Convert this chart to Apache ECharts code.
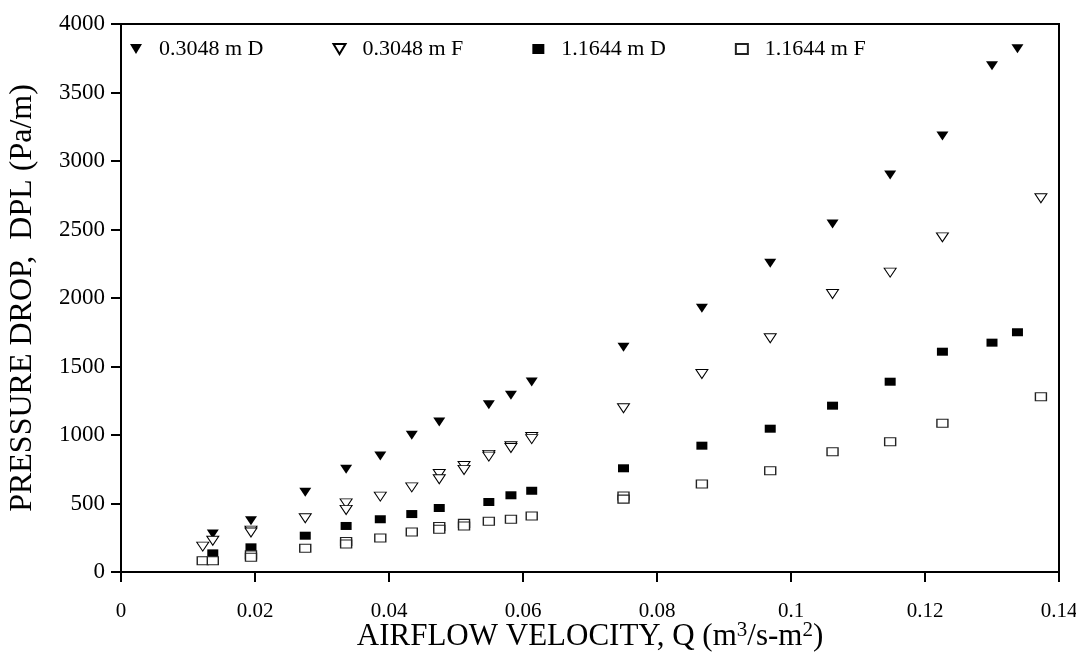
<!DOCTYPE html>
<html>
<head>
<meta charset="utf-8">
<script src="https://cdn.jsdelivr.net/npm/echarts@6/dist/echarts.min.js"></script>
<style>
    html, body { margin: 0; padding: 0; background: #fff; }
    #chart { width: 1076px; height: 658px; }
</style>
</head>
<body>
<div id="chart"></div>
<script>
// 0.3048 m D (filled triangles)
const d03X = [0.0137, 0.0194, 0.0275, 0.0336, 0.0387, 0.0434, 0.0475, 0.0549, 0.0582, 0.0613, 0.0750, 0.0867, 0.0969, 0.1062, 0.1148, 0.1226, 0.1300, 0.1338];
const d03Y = [277, 374, 582, 750, 847, 998, 1095, 1221, 1290, 1387, 1640, 1925, 2253, 2540, 2898, 3182, 3696, 3820];
// 0.3048 m F (open triangles)
const f03X = [0.0122, 0.0137, 0.0194, 0.0194, 0.0275, 0.0336, 0.0336, 0.0387, 0.0434, 0.0475, 0.0475, 0.0512, 0.0512, 0.0549, 0.0549, 0.0582, 0.0582, 0.0613, 0.0613, 0.0750, 0.0867, 0.0969, 0.1062, 0.1148, 0.1226, 0.1373];
const f03Y = [185, 228, 302, 288, 392, 501, 453, 550, 618, 715, 677, 774, 745, 855, 842, 918, 905, 985, 970, 1195, 1445, 1706, 2029, 2185, 2443, 2728];
// 1.1644 m D (filled squares)
const d11X = [0.0137, 0.0194, 0.0275, 0.0336, 0.0387, 0.0434, 0.0475, 0.0549, 0.0582, 0.0613, 0.0750, 0.0867, 0.0969, 0.1062, 0.1148, 0.1226, 0.1300, 0.1338];
const d11Y = [136, 180, 265, 336, 385, 423, 467, 511, 560, 593, 757, 922, 1046, 1214, 1389, 1608, 1674, 1750];
// 1.1644 m F (open squares)
const f11X = [0.0122, 0.0137, 0.0194, 0.0194, 0.0275, 0.0336, 0.0336, 0.0387, 0.0434, 0.0475, 0.0475, 0.0512, 0.0512, 0.0549, 0.0582, 0.0613, 0.0750, 0.0750, 0.0867, 0.0969, 0.1062, 0.1148, 0.1226, 0.1373];
const f11Y = [82, 82, 125, 108, 173, 222, 205, 248, 292, 332, 312, 355, 336, 370, 385, 409, 555, 532, 642, 739, 878, 951, 1085, 1280];

const seriesNames = ['0.3048 m D', '0.3048 m F', '1.1644 m D', '1.1644 m F'];

const downTri = 'path://M0,0 L12,0 L6,10 Z';
const font = 'Liberation Serif';

function pairs(xs, ys) {
    return xs.map((x, i) => [x, ys[i]]);
}

const chart = echarts.init(document.getElementById('chart'));
const option = {
    animation: false,
    textStyle: { fontFamily: font, color: '#000' },
    grid: {
        left: 121,
        right: 17,
        top: 24,
        bottom: 86,
        containLabel: false,
        outerBoundsMode: 'none',
        show: true,
        borderColor: '#000',
        borderWidth: 2
    },
    legend: {
        left: 125,
        top: 33,
        itemWidth: 12,
        itemHeight: 10,
        itemGap: 69,
        textStyle: {
            fontFamily: font,
            fontSize: 22,
            color: '#000',
            padding: [0, 0, 0, 12]
        },
        data: seriesNames
    },
    xAxis: {
        type: 'value',
        min: 0,
        max: 0.14,
        interval: 0.02,
        name: '{a|AIRFLOW VELOCITY, Q (m}{s|3}{a|/s-m}{s|2}{a|)}',
        nameLocation: 'middle',
        nameGap: 48,
        nameMoveOverlap: false,
        nameTextStyle: {
            rich: {
                a: { fontFamily: font, fontSize: 31, lineHeight: 34, color: '#000' },
                s: { fontFamily: font, fontSize: 21, lineHeight: 16, verticalAlign: 'top', color: '#000' }
            }
        },
        axisLine: { lineStyle: { color: '#000', width: 2 } },
        axisTick: { length: 10, lineStyle: { color: '#000', width: 2 } },
        axisLabel: { fontFamily: font, fontSize: 21, color: '#000', margin: 29 },
        splitLine: { show: false }
    },
    yAxis: {
        type: 'value',
        min: 0,
        max: 4000,
        interval: 500,
        name: 'PRESSURE DROP,  DPL (Pa/m)',
        nameLocation: 'middle',
        nameGap: 82,
        nameMoveOverlap: false,
        nameTextStyle: { fontFamily: font, fontSize: 32, color: '#000' },
        axisLine: { show: true, lineStyle: { color: '#000', width: 2 } },
        axisTick: { show: true, length: 10, lineStyle: { color: '#000', width: 2 } },
        axisLabel: {
            fontFamily: font,
            fontSize: 23,
            color: '#000',
            margin: 16,
            formatter: v => String(v)
        },
        splitLine: { show: false }
    },
    series: [{
        name: seriesNames[0],
        type: 'scatter',
        symbol: downTri,
        symbolSize: [12, 9],
        itemStyle: { color: '#000', opacity: 1 },
        data: pairs(d03X, d03Y)
    }, {
        name: seriesNames[1],
        type: 'scatter',
        symbol: downTri,
        symbolSize: [12, 9],
        itemStyle: { color: '#fff', borderColor: '#000', borderWidth: 1, opacity: 1 },
        data: pairs(f03X, f03Y)
    }, {
        name: seriesNames[2],
        type: 'scatter',
        symbol: 'rect',
        symbolSize: [11, 8],
        itemStyle: { color: '#000', opacity: 1 },
        data: pairs(d11X, d11Y)
    }, {
        name: seriesNames[3],
        type: 'scatter',
        symbol: 'rect',
        symbolSize: [11, 8],
        itemStyle: { color: '#fff', borderColor: '#222', borderWidth: 1.2, opacity: 1 },
        data: pairs(f11X, f11Y)
    }]
};
chart.setOption(option);
</script>
</body>
</html>
